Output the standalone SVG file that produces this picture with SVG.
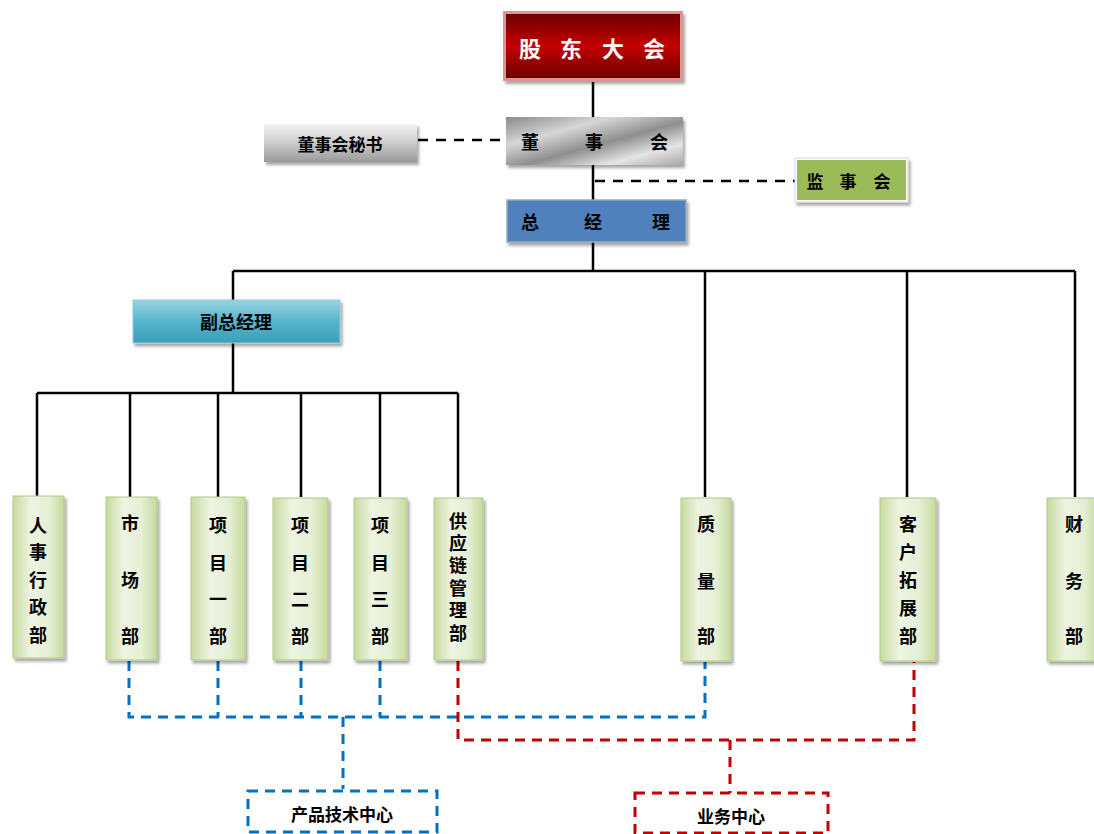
<svg xmlns="http://www.w3.org/2000/svg" width="1094" height="834" viewBox="0 0 1094 834">
<defs>
<linearGradient id="gRed" x1="0" y1="0" x2="0" y2="1">
<stop offset="0" stop-color="#6e0000"/><stop offset="0.5" stop-color="#c40000"/><stop offset="1" stop-color="#6e0000"/>
</linearGradient>
<linearGradient id="gMetal" x1="0" y1="0" x2="1" y2="1">
<stop offset="0" stop-color="#8a8a8a"/><stop offset="0.3" stop-color="#d6d6d6"/><stop offset="0.55" stop-color="#8e8e8e"/><stop offset="0.78" stop-color="#e4e4e4"/><stop offset="1" stop-color="#a8a8a8"/>
</linearGradient>
<linearGradient id="gGrey" x1="0" y1="0" x2="0" y2="1">
<stop offset="0" stop-color="#f4f4f4"/><stop offset="0.45" stop-color="#d0d0d0"/><stop offset="1" stop-color="#9a9a9a"/>
</linearGradient>
<linearGradient id="gTeal" x1="0" y1="0" x2="0" y2="1">
<stop offset="0" stop-color="#9bd3e2"/><stop offset="0.5" stop-color="#55b4cc"/><stop offset="1" stop-color="#3a9fb8"/>
</linearGradient>
<linearGradient id="gLeaf" x1="0" y1="0" x2="1" y2="0">
<stop offset="0" stop-color="#c8da9e"/><stop offset="0.35" stop-color="#eef4e2"/><stop offset="0.7" stop-color="#e6efd4"/><stop offset="1" stop-color="#c6d99c"/>
</linearGradient>
<filter id="sh" x="-20%" y="-20%" width="150%" height="150%">
<feDropShadow dx="2" dy="3" stdDeviation="1.5" flood-color="#000" flood-opacity="0.35"/>
</filter>
</defs>
<style>
.t{font-family:"Noto Sans CJK SC","Noto Sans",sans-serif;font-weight:bold;text-anchor:middle;dominant-baseline:central;fill:#000}
.w{fill:#fff}
.v{writing-mode:vertical-rl;dominant-baseline:auto}
.ln{stroke:#000;stroke-width:2.5;fill:none}
.dk{stroke:#000;stroke-width:2.5;fill:none;stroke-dasharray:10 8}
.bl{stroke:#0070c0;stroke-width:3;fill:none;stroke-dasharray:10 7}
.rd{stroke:#c00000;stroke-width:3;fill:none;stroke-dasharray:10 7}
.leaf{fill:url(#gLeaf);stroke:#b3c98c;stroke-width:1;filter:url(#sh)}
.lt{font-size:18px}
</style>
<g id="connectors">
<path class="ln" d="M593 82V118M593 165V201M593 242V271M233 271H1075M233 271V300M705 271V497M907 271V497M1075 271V497M233 343V393M37 393H458M37 393V497M130 393V497M218 393V497M301 393V497M380 393V497M458 393V497"/>
<path class="dk" d="M418 140H505"/>
<path class="dk" d="M595 181H795"/>
<path class="bl" d="M129 661V717H705V662M218 661V717M301 661V717M380 661V717M343 717V789"/>
<path class="rd" d="M458 661V740H914V662M730 740V793"/>
</g>
<g id="n-gudong">
<rect x="503" y="11" width="180" height="70" fill="#d99694" filter="url(#sh)"/>
<rect x="506" y="14" width="174" height="64" fill="url(#gRed)"/>
<text class="t w" font-size="22" y="47"><tspan x="530">股</tspan><tspan x="571">东</tspan><tspan x="613">大</tspan><tspan x="654">会</tspan></text>
</g>
<g id="n-dongshihui">
<rect x="506" y="117" width="177" height="48" fill="url(#gMetal)" filter="url(#sh)"/>
<text class="t" font-size="18" y="141"><tspan x="530">董</tspan><tspan x="594">事</tspan><tspan x="659">会</tspan></text>
</g>
<g id="n-mishu">
<rect x="264" y="124" width="153" height="38" fill="url(#gGrey)" filter="url(#sh)"/>
<text class="t" font-size="17" x="340" y="143">董事会秘书</text>
</g>
<g id="n-jianshihui">
<rect x="795" y="158" width="113" height="44" fill="#fff" stroke="#d9d9d9" filter="url(#sh)"/>
<rect x="797" y="160" width="109" height="40" fill="#9bbb59"/>
<text class="t" font-size="17" y="180"><tspan x="815">监</tspan><tspan x="848">事</tspan><tspan x="882">会</tspan></text>
</g>
<g id="n-zongjingli">
<rect x="507" y="200" width="179" height="42" fill="#4f81bd" stroke="#9aa9bd" stroke-width="1.5" filter="url(#sh)"/>
<text class="t" font-size="18" y="221"><tspan x="530">总</tspan><tspan x="593">经</tspan><tspan x="661">理</tspan></text>
</g>
<g id="n-fuzong">
<rect x="133" y="300" width="207" height="43" fill="url(#gTeal)" stroke="#8fcbd9" stroke-width="1" filter="url(#sh)"/>
<text class="t" font-size="18" x="236" y="321">副总经理</text>
</g>
<g id="n-renshi">
<rect class="leaf" x="13" y="496" width="51" height="162"/>
<text class="t lt" x="38"><tspan x="38" y="524">人</tspan><tspan x="38" y="551">事</tspan><tspan x="38" y="579">行</tspan><tspan x="38" y="606">政</tspan><tspan x="38" y="634">部</tspan></text>
</g>
<g id="n-shichang">
<rect class="leaf" x="106" y="497" width="51" height="163"/>
<text class="t lt"><tspan x="130" y="522">市</tspan><tspan x="130" y="579">场</tspan><tspan x="130" y="635">部</tspan></text>
</g>
<g id="n-xm1">
<rect class="leaf" x="191" y="497" width="54" height="163"/>
<text class="t lt"><tspan x="218" y="524">项</tspan><tspan x="218" y="562">目</tspan><tspan x="218" y="598">一</tspan><tspan x="218" y="635">部</tspan></text>
</g>
<g id="n-xm2">
<rect class="leaf" x="273" y="498" width="55" height="162"/>
<text class="t lt"><tspan x="300" y="524">项</tspan><tspan x="300" y="562">目</tspan><tspan x="300" y="598">二</tspan><tspan x="300" y="635">部</tspan></text>
</g>
<g id="n-xm3">
<rect class="leaf" x="354" y="498" width="53" height="162"/>
<text class="t lt"><tspan x="380" y="524">项</tspan><tspan x="380" y="562">目</tspan><tspan x="380" y="598">三</tspan><tspan x="380" y="635">部</tspan></text>
</g>
<g id="n-gongying">
<rect class="leaf" x="434" y="498" width="49" height="162"/>
<text class="t lt v" x="458" y="579" letter-spacing="4.4">供应链管理部</text>
</g>
<g id="n-zhiliang">
<rect class="leaf" x="681" y="498" width="50" height="163"/>
<text class="t lt"><tspan x="706" y="523">质</tspan><tspan x="706" y="580">量</tspan><tspan x="706" y="635">部</tspan></text>
</g>
<g id="n-kehu">
<rect class="leaf" x="880" y="498" width="56" height="163"/>
<text class="t lt"><tspan x="908" y="523">客</tspan><tspan x="908" y="551">户</tspan><tspan x="908" y="579">拓</tspan><tspan x="908" y="607">展</tspan><tspan x="908" y="635">部</tspan></text>
</g>
<g id="n-caiwu">
<rect class="leaf" x="1047" y="498" width="52" height="163"/>
<text class="t lt"><tspan x="1074" y="523">财</tspan><tspan x="1074" y="580">务</tspan><tspan x="1074" y="635">部</tspan></text>
</g>
<g id="n-chanpin">
<rect x="248" y="791" width="189" height="41" fill="none" class="bl"/>
<text class="t" font-size="17" x="342" y="813">产品技术中心</text>
</g>
<g id="n-yewu">
<rect x="635" y="793" width="193" height="40" fill="none" class="rd"/>
<text class="t" font-size="17" x="731" y="815">业务中心</text>
</g>
</svg>
